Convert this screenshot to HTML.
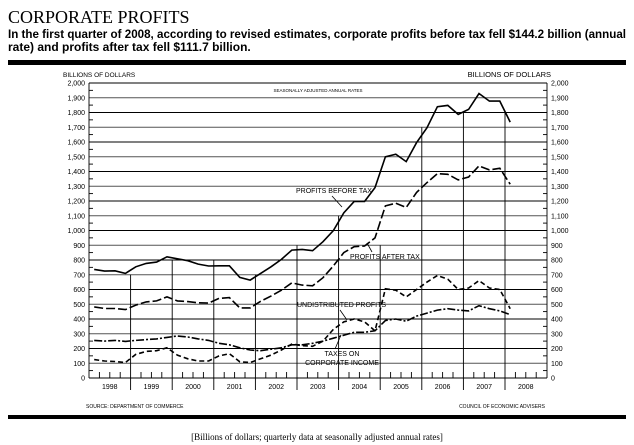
<!DOCTYPE html>
<html><head><meta charset="utf-8"><style>
html,body{margin:0;padding:0;background:#fff;}
svg{display:block;}
</style></head><body>
<svg width="634" height="445" viewBox="0 0 634 445" xmlns="http://www.w3.org/2000/svg" font-family="Liberation Sans, sans-serif">
<text x="8" y="23" font-family="Liberation Serif, serif" font-size="18" fill="#000">CORPORATE PROFITS</text>
<text x="8" y="38" font-size="12" font-weight="bold" fill="#000" textLength="618" lengthAdjust="spacingAndGlyphs">In the first quarter of 2008, according to revised estimates, corporate profits before tax fell $144.2 billion (annual</text>
<text x="8" y="51" font-size="12" font-weight="bold" fill="#000">rate) and profits after tax fell $111.7 billion.</text>
<rect x="8" y="60" width="618" height="5" fill="#000"/>
<rect x="8" y="415" width="618" height="4" fill="#000"/>
<text x="317" y="440" text-anchor="middle" font-family="Liberation Serif, serif" font-size="9">[Billions of dollars; quarterly data at seasonally adjusted annual rates]</text>
<text x="63" y="77" font-size="6.5">BILLIONS OF DOLLARS</text>
<text x="551" y="77" font-size="7.5" text-anchor="end">BILLIONS OF DOLLARS</text>
<text x="318" y="92" font-size="4.5" text-anchor="middle">SEASONALLY ADJUSTED ANNUAL RATES</text>
<text x="86" y="408" font-size="5">SOURCE: DEPARTMENT OF COMMERCE</text>
<text x="545" y="408" font-size="5" text-anchor="end">COUNCIL OF ECONOMIC ADVISERS</text>
<g id="grid" stroke="#000" stroke-width="0.9" fill="none"></g>
<g id="lab" font-size="7" fill="#000"></g>
<g id="series" fill="none" stroke="#000" stroke-width="1.6"></g>
<g font-size="7" fill="#000">
<text x="296" y="193">PROFITS BEFORE TAX</text>
<line x1="332" y1="196" x2="342" y2="207" stroke="#000" stroke-width="0.8"/>
<text x="350" y="259">PROFITS AFTER TAX</text>
<line x1="372" y1="252" x2="367" y2="243" stroke="#000" stroke-width="0.8"/>
<text x="297" y="307">UNDISTRIBUTED PROFITS</text>
<line x1="340" y1="310" x2="347" y2="320" stroke="#000" stroke-width="0.8"/>
<text x="342" y="356" text-anchor="middle">TAXES ON</text>
<text x="342" y="365" text-anchor="middle">CORPORATE INCOME</text>
<line x1="335" y1="349" x2="341" y2="335" stroke="#000" stroke-width="0.8"/>
</g>
</svg>
<script>
(function(){
var NS="http://www.w3.org/2000/svg";
var L=89,R=547,Y0=378,K=0.1475,YW=41.6;
function y(v){return Y0-v*K;}
var g=document.getElementById('grid'),lab=document.getElementById('lab'),s=document.getElementById('series');
function el(p,t,a,txt){var e=document.createElementNS(NS,t);for(var k in a)e.setAttribute(k,a[k]);if(txt)e.textContent=txt;p.appendChild(e);return e;}
for(var v=0;v<=2000;v+=100){
 var yy=y(v);
 el(g,'line',{x1:L,x2:R,y1:yy,y2:yy,stroke:(v%200==0?'#000':'#555')});
 var t=v>=1000?(Math.floor(v/1000)+','+('00'+(v%1000)).slice(-3)):String(v);
 el(lab,'text',{x:L-4,y:yy+2.5,'text-anchor':'end'},t);
 el(lab,'text',{x:R+4,y:yy+2.5},t);
 if(v<2000){
 el(g,'line',{x1:L,x2:L+4,y1:yy-7.4,y2:yy-7.4});
 el(g,'line',{x1:R-4,x2:R,y1:yy-7.4,y2:yy-7.4});}
}
el(g,'line',{x1:L,x2:L,y1:y(2000),y2:Y0});
el(g,'line',{x1:R,x2:R,y1:y(2000),y2:Y0});
var tops=[0,700,800,800,700,900,1100,900,1700,1800,1800];
for(var i=0;i<11;i++){
 var x0=L+i*YW;
 if(i>0) el(g,'line',{x1:x0,x2:x0,y1:y(tops[i]),y2:Y0+12});
 for(var q=1;q<4;q++) el(g,'line',{x1:x0+q*YW/4,x2:x0+q*YW/4,y1:Y0,y2:Y0-6});
 el(lab,'text',{x:x0+YW/2,y:Y0+11,'text-anchor':'middle'},String(1998+i));
}
function X(i){return L+(i+0.5)*YW/4;}
var bt=[736,725,727,709,754,777,786,822,808,795,772,759,761,761,682,664,709,754,804,867,872,863,924,1000,1120,1197,1197,1291,1500,1517,1467,1596,1697,1839,1848,1787,1821,1929,1877,1877,1735];
var at=[482,471,471,464,494,516,523,550,523,518,510,508,540,545,475,475,520,555,595,645,630,625,680,760,850,890,895,950,1167,1185,1156,1258,1325,1386,1381,1343,1363,1438,1411,1422,1314];
var un=[125,115,112,105,160,180,185,205,155,130,115,115,150,165,110,105,130,155,190,230,220,215,250,330,380,400,380,320,605,595,550,600,650,695,670,600,610,660,610,600,470];
var tx=[255,250,255,248,255,260,265,275,285,278,265,255,235,225,205,190,185,195,205,225,225,235,250,270,290,310,310,320,390,400,385,420,440,460,470,460,455,490,470,455,430];
function line(d,dash){var p=d.map(function(v,i){return X(i).toFixed(1)+','+y(v).toFixed(1);}).join(' ');var a={points:p};if(dash)a['stroke-dasharray']=dash;el(s,'polyline',a);}
line(bt);line(at,'9,3');line(un,'5,3');line(tx,'8,2,2,2');
})();
</script>
</body></html>
